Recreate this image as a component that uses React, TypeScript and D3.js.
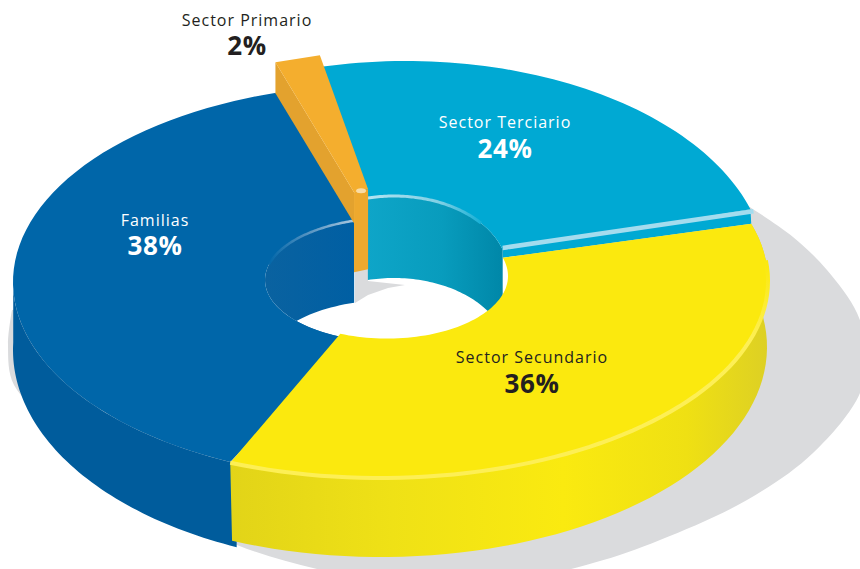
import React from "react";
import * as d3 from "d3";

const categories = ["Sector Primario", "Sector Terciario", "Sector Secundario", "Familias"];
const shares = [2, 24, 36, 38];
const percentLabels = ["2%", "24%", "36%", "38%"];

const shadowX = [745, 793, 827, 857, 866, 860, 813, 747, 660, 593, 450, 330, 237, 150, 60, 14, 8, 12];
const shadowY = [204, 237, 270, 313, 350, 393, 453, 500, 540, 563, 592, 572, 545, 500, 430, 385, 345, 310];
const holeGreyX = [355, 368, 368, 405, 388, 368, 355];
const holeGreyY = [268, 268, 281, 285, 288, 295, 303];

type Ell = { cx: number; cy: number; rx: number; ry: number };
const pieLayout = d3.pie<number>().sort(null).value((d) => d)
  .startAngle((-20.5 * Math.PI) / 180).endAngle(((360 - 20.5) * Math.PI) / 180);
const arcs = pieLayout(shares);

const pt = (e: Ell, t: number): [number, number] => [e.cx + e.rx * Math.sin(t), e.cy - e.ry * Math.cos(t)];
const sample = (e: Ell, a: number, b: number, n = 60): [number, number][] =>
  d3.range(n + 1).map((i) => pt(e, a + ((b - a) * i) / n));
const line = d3.line();
const poly = (...parts: [number, number][][]) => line(parts.flat())! + "Z";
const rad = (deg: number) => (deg * Math.PI) / 180;

const tealOuter: Ell = { cx: 406, cy: 270, rx: 360, ry: 209 };
const tealInner: Ell = { cx: 394, cy: 272, rx: 113.6, ry: 76 };
const yelOuter: Ell = { cx: 380, cy: 281, rx: 388, ry: 197 };
const yelInner: Ell = { cx: 387, cy: 276, rx: 121, ry: 62.6 };
const yelBase: Ell = { cx: 381, cy: 347, rx: 386, ry: 210 };
const bluOuter: Ell = { cx: 385, cy: 282, rx: 372, ry: 198 };
const bluInner: Ell = { cx: 391, cy: 280, rx: 126, ry: 62 };
const bluBase: Ell = { cx: 385, cy: 350, rx: 372, ry: 215 };
const oraOuter: Ell = { cx: 405, cy: 245, rx: 370, ry: 195 };
const oraInner: Ell = { cx: 395, cy: 270, rx: 117, ry: 83 };

const down = (e: Ell, d: number): Ell => ({ ...e, cy: e.cy + d });

export default function App() {
  const [ora, teal, yel, blu] = arcs;
  const bA = blu.startAngle + rad(1.9);
  const bB = blu.endAngle + rad(3.5);

  const oraTL = pt(oraOuter, ora.startAngle);
  const oraTR = pt(oraOuter, ora.endAngle);
  const oraIL = pt(oraInner, ora.startAngle);
  const oraIR = pt(oraInner, ora.endAngle);
  const oraDepth = 31;
  const oraLow = 80;
  const tI1 = pt(tealInner, teal.endAngle);
  const tO1 = pt(tealOuter, teal.endAngle);

  const shadowPath = d3.line().curve(d3.curveCatmullRom)(shadowX.map((x, i) => [x, shadowY[i]] as [number, number]))! + "Z";

  const labels = [
    { x: 247, y1: 26, y2: 55, fill: "#231f20" },
    { x: 505, y1: 128, y2: 158, fill: "#ffffff" },
    { x: 532, y1: 363, y2: 393, fill: "#231f20" },
    { x: 155, y1: 226, y2: 255, fill: "#ffffff" },
  ];

  return (
    <svg width={860} height={569} style={{ position: "absolute", left: 0, top: 0, background: "#fff" }}>
      <defs>
        <linearGradient id="yelSide" x1="0" x2="1" y1="0" y2="0">
          <stop offset="0" stopColor="#e2d418" />
          <stop offset="0.3" stopColor="#efe116" />
          <stop offset="0.62" stopColor="#faea10" />
          <stop offset="0.85" stopColor="#efe013" />
          <stop offset="1" stopColor="#ddd024" />
        </linearGradient>
        <linearGradient id="tealWall" x1="0" x2="1" y1="0" y2="0">
          <stop offset="0" stopColor="#0ea5c8" />
          <stop offset="0.55" stopColor="#089cbd" />
          <stop offset="1" stopColor="#0087a8" />
        </linearGradient>
        <linearGradient id="bluWall" x1="0" x2="1" y1="0" y2="0">
          <stop offset="0" stopColor="#0a62a0" />
          <stop offset="1" stopColor="#005fa3" />
        </linearGradient>
        <linearGradient id="rimFade" gradientUnits="userSpaceOnUse" x1="368" x2="490" y1="0" y2="0">
          <stop offset="0" stopColor="#b4e3f1" />
          <stop offset="0.6" stopColor="#7dcfe4" />
          <stop offset="1" stopColor="#00a9d3" />
        </linearGradient>
        <linearGradient id="bluRim" gradientUnits="userSpaceOnUse" x1="354" x2="268" y1="0" y2="0">
          <stop offset="0" stopColor="#a9c8df" />
          <stop offset="0.5" stopColor="#5c97c3" />
          <stop offset="1" stopColor="#0066a9" />
        </linearGradient>
        <linearGradient id="yelRim" gradientUnits="userSpaceOnUse" x1="0" x2="0" y1="265" y2="340">
          <stop offset="0" stopColor="#fbe90e" />
          <stop offset="1" stopColor="#fdef55" />
        </linearGradient>
      </defs>

      <path d={shadowPath} fill="#dadbdd" />

      {/* hole floor */}
      <ellipse cx={387} cy={276} rx={135} ry={66} fill="#ffffff" />
      <path d={poly(holeGreyX.map((x, i) => [x, holeGreyY[i]] as [number, number]))} fill="#dadbdd" />

      {/* hole walls */}
      <path d={poly(sample(tealInner, teal.startAngle, teal.endAngle), sample(down(tealInner, 82), teal.endAngle, teal.startAngle))} fill="url(#tealWall)" />
      <path d={poly(sample(bluInner, bA, bB), sample(down(bluInner, 82), bB, bA))} fill="url(#bluWall)" />

      {/* blue side and top */}
      <path d={poly(sample(bluOuter, rad(203.5), rad(272)), sample(bluBase, rad(272), rad(203.5)))} fill="#005c9c" />
      <path d={poly(sample(bluOuter, bA, bB), sample(bluInner, bB, rad(200)))} fill="#0066a9" />
      <path d={line(sample(bluInner, rad(285), bB))!} fill="none" stroke="url(#bluRim)" strokeWidth={2.5} />

      {/* teal top */}
      <path d={poly([tI1, tO1, pt(yelOuter, teal.endAngle), pt(yelInner, teal.endAngle)])} fill="#00a9d3" />
      <path d={poly(sample(tealOuter, teal.startAngle, teal.endAngle), sample(tealInner, teal.endAngle, teal.startAngle))} fill="#00a9d3" />
      <path d={line(sample(tealInner, teal.startAngle, rad(50)))!} fill="none" stroke="url(#rimFade)" strokeWidth={3} />
      <path d={line([[tI1[0], tI1[1] - 2], [tO1[0] + 3, tO1[1] + 2]])!} fill="none" stroke="#a4dcee" strokeWidth={4.5} />

      {/* yellow side and top */}
      <path d={poly(sample(yelOuter, rad(73.1), yel.endAngle), sample(yelBase, yel.endAngle, rad(73.1)))} fill="url(#yelSide)" />
      <path d={poly(sample(yelOuter, yel.startAngle, yel.endAngle), sample(yelInner, yel.endAngle, yel.startAngle))} fill="#fbe90e" />
      <path d={line(sample(yelOuter, rad(84), yel.endAngle))!} fill="none" stroke="url(#yelRim)" strokeWidth={4} />

      {/* orange wedge */}
      <path d={poly([oraTL, oraIL, [oraIL[0], oraIL[1] + oraDepth], [oraTL[0], oraTL[1] + oraDepth]])} fill="#e3a22e" />
      <path d={poly([oraTL, oraTR, oraIR, oraIL])} fill="#f4ae2e" />
      <path d={poly([oraIL, oraIR, [oraIR[0], oraIR[1] + oraLow], [oraIL[0], oraIL[1] + oraLow]])} fill="#eea92e" />
      <ellipse cx={(oraIL[0] + oraIR[0]) / 2} cy={(oraIL[1] + oraIR[1]) / 2} rx={5} ry={2.5} fill="#f9dca6" />

      {categories.map((c, i) => (
        <g key={c} textAnchor="middle" fontFamily="'Open Sans', 'Noto Sans', sans-serif" fill={labels[i].fill}>
          <text x={labels[i].x} y={labels[i].y1} fontSize={16} letterSpacing={1}>{c}</text>
          <text x={labels[i].x} y={labels[i].y2} fontSize={26} fontWeight={700} letterSpacing={0.6}>{percentLabels[i]}</text>
        </g>
      ))}
    </svg>
  );
}
